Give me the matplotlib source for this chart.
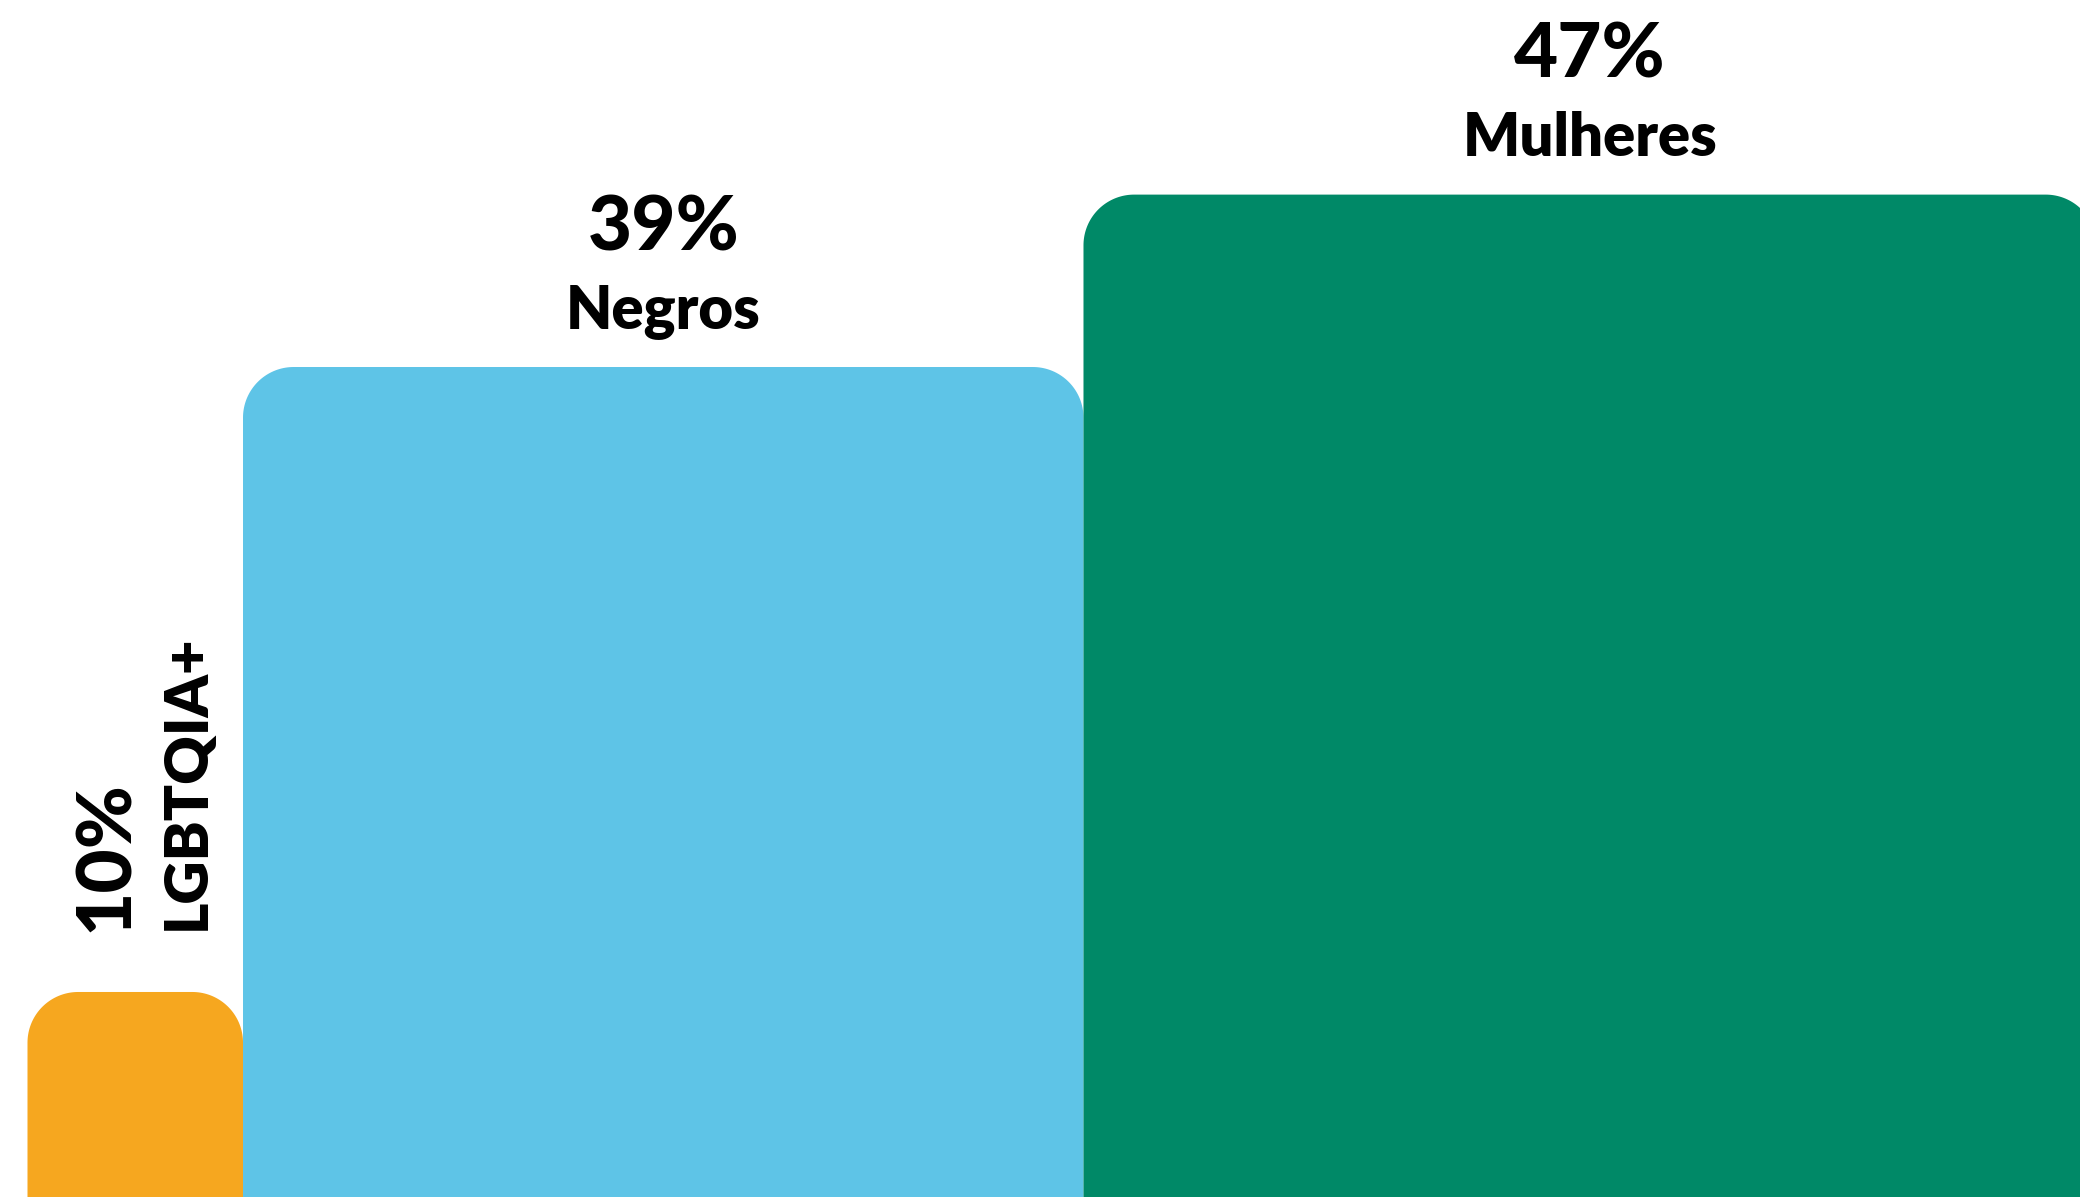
import numpy as np
import matplotlib.pyplot as plt
from matplotlib.patches import Polygon

categories = ["LGBTQIA+", "Negros", "Mulheres"]
values = [10, 39, 47]
pct_labels = ["10%", "39%", "47%"]
colors = ["#F6A71F", "#5EC4E7", "#008967"]

plt.rcParams["font.family"] = ["Lato", "DejaVu Sans"]


def top_rounded(x0, w, h, r, n=40):
    # rectangle from y=0 up to h, only the two top corners rounded
    t = np.linspace(0, np.pi / 2, n)
    left = np.column_stack([x0 + r - r * np.cos(t), h - r + r * np.sin(t)])
    right = np.column_stack([x0 + w - r + r * np.sin(t), h - r + r * np.cos(t)])
    return np.vstack([[x0, 0], left, right, [x0 + w, 0]])


fig = plt.figure(figsize=(20.8, 11.97), dpi=100)
ax = fig.add_axes([0, 0, 1, 1])

# bars are squares: width = height = value, placed side by side
lefts = np.concatenate([[0], np.cumsum(values)[:-1]])
r = 2.35
for left, v, c in zip(lefts, values, colors):
    ax.add_patch(Polygon(top_rounded(left, v, v, r), closed=True, fc=c, ec="none"))

centers = lefts + np.array(values) / 2

# upright labels for the two wide bars
for cx, v, name, pct in zip(centers[1:], values[1:], categories[1:], pct_labels[1:]):
    ax.annotate(name, (cx, v), xytext=(0, 28), textcoords="offset points",
                ha="center", va="baseline", fontsize=43, fontweight="heavy")
    ax.annotate(pct, (cx, v), xytext=(0, 84), textcoords="offset points",
                ha="center", va="baseline", fontsize=55, fontweight="black")

# rotated labels for the small bar
ax.annotate(pct_labels[0], (centers[0], values[0]), xytext=(-5, 43),
            textcoords="offset points", rotation=90, rotation_mode="anchor",
            ha="left", va="baseline", fontsize=55, fontweight="black")
ax.annotate(categories[0], (centers[0], values[0]), xytext=(50, 44.6),
            textcoords="offset points", rotation=90, rotation_mode="anchor",
            ha="left", va="baseline", fontsize=43, fontweight="heavy")

ax.set_xlim(-1.276, 95.24)
ax.set_ylim(0.487, 56.03)
ax.axis("off")

fig.savefig("out.png", dpi=100, facecolor="white")
